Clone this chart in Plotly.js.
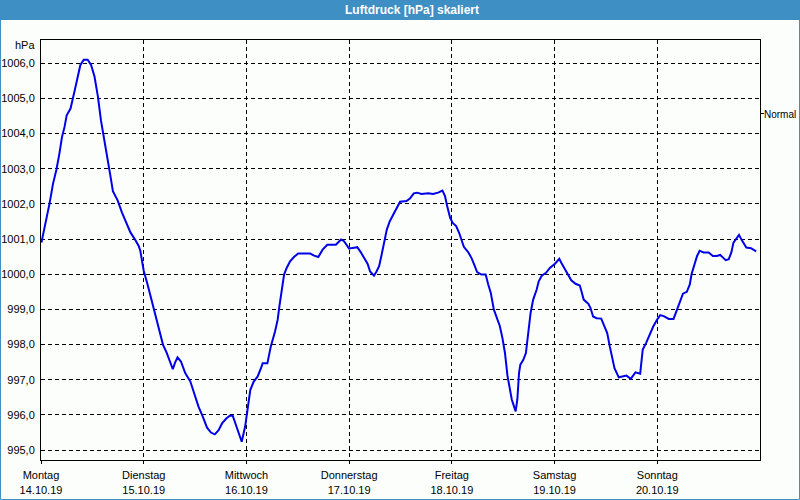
<!DOCTYPE html>
<html>
<head>
<meta charset="utf-8">
<script src="https://cdn.plot.ly/plotly-3.0.1.min.js"></script>
<style>
html,body{margin:0;padding:0;background:#fcfefc;}
#chart{width:800px;height:500px;}
</style>
</head>
<body>
<div id="chart"></div>
<script>
// hours since Montag 14.10.19 00:00
const hours = [
  0.1,1.05,1.98,2.8,3.6,4.3,4.9,5.5,6.0,6.9,7.4,7.9,8.6,9.2,10.0,10.9,11.7,12.5,13.3,14.0,
  14.8,15.6,16.2,16.8,17.9,18.9,20.0,20.9,21.9,22.8,23.2,24.0,24.9,25.9,26.7,27.6,28.5,29.4,30.2,30.8,
  31.3,31.9,32.7,33.7,34.9,35.8,36.8,37.8,38.8,39.7,40.6,41.5,42.3,43.3,44.1,44.8,45.8,46.9,
  47.7,48.3,48.9,49.7,50.6,51.4,51.8,52.9,53.7,54.7,55.3,55.7,56.2,56.8,57.4,58.2,59.1,60.1,61.3,62.9,
  63.8,64.8,65.8,66.9,68.9,70.1,70.8,72.0,72.8,73.9,74.7,75.5,76.3,76.9,77.8,78.4,79.0,79.6,80.2,80.8,
  81.5,82.3,83.1,83.9,85.4,86.2,87.1,87.9,88.9,90.5,91.6,92.8,93.8,
  94.4,94.9,95.6,96.2,97.0,97.7,98.3,98.8,99.8,100.6,101.2,101.9,102.9,103.9,104.5,105.1,105.8,106.6,107.2,107.8,
  108.4,109.0,109.5,110.0,110.5,110.9,111.3,111.7,112.0,112.7,113.3,113.8,114.4,115.0,115.8,116.3,117.0,118.0,118.9,120.1,
  121.1,121.6,122.4,123.1,123.9,124.9,125.9,126.3,126.8,127.9,128.4,129.0,129.8,130.9,
  131.7,132.3,132.9,133.5,134.0,135.0,135.8,136.8,137.8,138.9,140.0,140.6,141.4,142.2,143.0,143.9,144.7,145.5,146.7,147.8,
  148.6,149.2,150.0,150.9,151.6,152.0,152.7,153.3,153.9,154.8,156.0,157.0,157.9,158.7,159.3,160.0,160.7,161.3,161.8,162.5,
  163.1,163.6,164.2,164.8,165.9,166.7,167.1
];
const pressure = [
  1000.90,1001.43,1002.0,1002.57,1002.97,1003.43,1003.9,1004.19,1004.52,1004.71,1004.95,1005.24,1005.62,1005.95,1006.10,1006.10,1005.95,1005.62,1005.05,1004.38,
  1003.81,1003.29,1002.81,1002.36,1002.10,1001.76,1001.43,1001.19,1001.0,1000.81,1000.67,1000.10,999.71,999.24,998.86,998.38,998.0,997.76,997.52,997.30,
  997.48,997.64,997.52,997.19,996.95,996.62,996.24,995.95,995.64,995.50,995.45,995.57,995.76,995.90,995.98,995.98,995.62,995.24,
  995.67,996.24,996.71,996.95,997.09,997.33,997.47,997.47,997.95,998.38,998.71,999.09,999.47,999.99,1000.18,1000.37,1000.49,1000.59,1000.59,1000.59,
  1000.53,1000.49,1000.70,1000.84,1000.84,1000.99,1000.94,1000.73,1000.75,1000.77,1000.63,1000.46,1000.30,1000.08,999.96,1000.08,1000.23,1000.56,1000.89,1001.27,
  1001.51,1001.70,1001.89,1002.06,1002.08,1002.15,1002.30,1002.32,1002.28,1002.30,1002.28,1002.32,1002.38,
  1002.22,1001.94,1001.60,1001.46,1001.37,1001.18,1000.99,1000.78,1000.63,1000.46,1000.28,1000.06,999.99,999.99,999.71,999.47,999.0,998.72,998.53,998.20,
  997.77,997.11,996.73,996.44,996.25,996.10,996.44,997.20,997.43,997.57,997.76,998.33,998.90,999.28,999.56,999.80,999.96,1000.04,1000.18,1000.30,
  1000.44,1000.32,1000.15,999.99,999.83,999.73,999.68,999.51,999.28,999.16,999.04,998.80,998.75,998.74,
  998.52,998.33,997.95,997.57,997.33,997.07,997.10,997.12,997.03,997.21,997.17,997.86,998.05,998.29,998.50,998.70,998.84,998.81,998.73,998.73,
  999.0,999.24,999.45,999.50,999.71,1000.0,1000.29,1000.52,1000.67,1000.62,1000.62,1000.52,1000.52,1000.55,1000.48,1000.40,1000.43,1000.62,1000.90,1001.02,
  1001.12,1001.0,1000.89,1000.76,1000.74,1000.67,1000.65
];
const dayNames = ["Montag","Dienstag","Mittwoch","Donnerstag","Freitag","Samstag","Sonntag"];
const dayDates = ["14.10.19","15.10.19","16.10.19","17.10.19","18.10.19","19.10.19","20.10.19"];
const dayHours = [0,24,48,72,96,120,144];
const yTicks = [995,996,997,998,999,1000,1001,1002,1003,1004,1005,1006];

const txt = {family:'"Liberation Sans", Arial, sans-serif', size:11, color:'#000'};
const bg = '#fcfefc';
const frameBlue = '#3d8fc4';
// plot area pixel geometry: left 41, right 760, top 40, bottom 460
const PW = 719, PH = 420;
const px = v => (v - 41) / PW;
const py = v => (460 - v) / PH;

const trace = {
  x: hours, y: pressure, type:'scatter', mode:'lines', name:'Normal',
  line:{color:'#0000e8', width:2}, hoverinfo:'x+y'
};

const layout = {
  width:800, height:500,
  margin:{l:41, r:40, t:40, b:40},
  paper_bgcolor:bg, plot_bgcolor:bg,
  separators:',.',
  showlegend:false,
  font:txt,
  title:{text:'Luftdruck [hPa] skaliert', font:{family:'"Liberation Sans", Arial, sans-serif', size:12, color:'#ffffff', weight:'bold'},
         xref:'container', yref:'container', x:0.515, y:0.98, xanchor:'center', yanchor:'middle'},
  xaxis:{
    range:[0,168], tickvals:dayHours,
    ticktext: dayNames.map((d,i)=> d + '<br>' + dayDates[i]),
    showgrid:true, gridcolor:'#000', griddash:'4px,3px', gridwidth:1,
    showline:true, mirror:true, linecolor:'#000', linewidth:1,
    ticks:'outside', ticklen:3, tickcolor:'#000', tickfont:txt, ticklabelstandoff:2, zeroline:false, fixedrange:true
  },
  yaxis:{
    range:[994.72,1006.66], tickvals:yTicks, tickformat:'.1f',
    showgrid:true, gridcolor:'#000', griddash:'4px,3px', gridwidth:1,
    showline:true, mirror:true, linecolor:'#000', linewidth:1,
    ticks:'outside', ticklen:3, tickcolor:'rgba(0,0,0,0)', tickfont:txt, zeroline:false, fixedrange:true
  },
  shapes:[
    {type:'rect', xref:'paper', yref:'paper', x0:px(0), x1:px(800), y0:py(20), y1:py(0),
     fillcolor:frameBlue, line:{width:0}, layer:'below'},
    {type:'rect', xref:'paper', yref:'paper', x0:px(0.5), x1:px(799.5), y0:py(499.5), y1:py(0),
     fillcolor:'rgba(0,0,0,0)', line:{color:frameBlue, width:1}},
    {type:'line', xref:'paper', yref:'paper', x0:px(761), x1:px(764), y0:py(113.5), y1:py(113.5),
     line:{color:'#000', width:1}}
  ],
  annotations:[
    {text:'hPa', xref:'paper', yref:'paper', x:px(37), y:py(45.5), xanchor:'right', yanchor:'middle', showarrow:false, font:txt},
    {text:'Normal', xref:'paper', yref:'paper', x:px(763), y:py(114.5), xanchor:'left', yanchor:'middle', showarrow:false,
     font:{family:'"Liberation Sans", Arial, sans-serif', size:10, color:'#000'}, borderpad:0}
  ]
};

Plotly.newPlot('chart', [trace], layout, {displayModeBar:false, staticPlot:true});
</script>
</body>
</html>
